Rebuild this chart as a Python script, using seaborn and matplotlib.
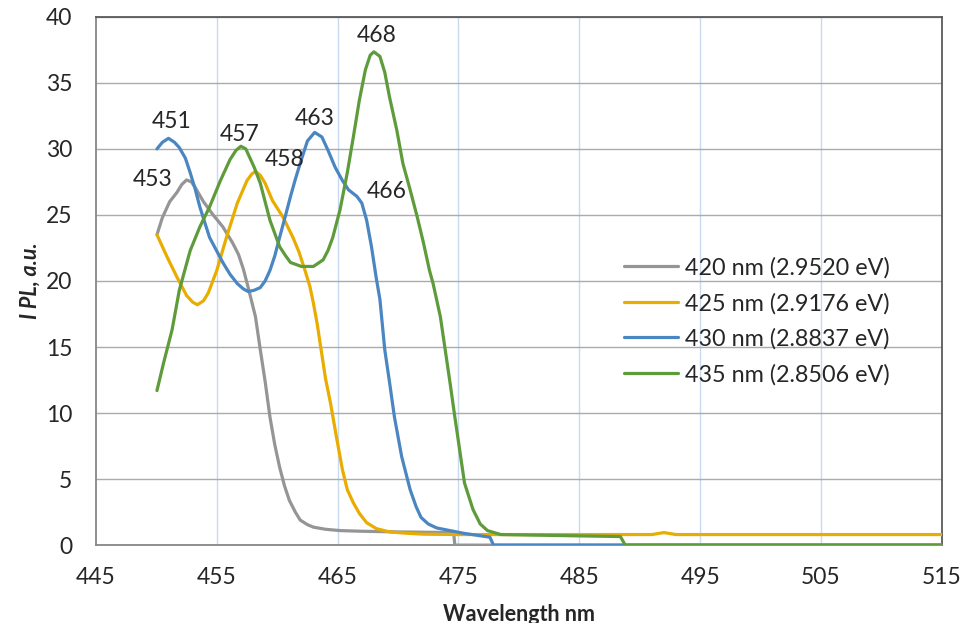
import numpy as np
import pandas as pd
import matplotlib
matplotlib.use('Agg')
import matplotlib.pyplot as plt
import seaborn as sns

# PL spectra (wavelength nm, intensity a.u.)
wl_420 = [450.05, 450.5, 451.1, 451.7, 452.1, 452.5, 452.9, 453.2, 453.9, 454.7,
          455.5, 456.3, 456.8, 457.2, 457.6, 458.2, 458.6, 459.0, 459.4, 459.8,
          460.2, 460.6, 461.0, 461.5, 461.9, 462.5, 463.0, 464.0, 465.2, 467.0,
          470.0, 474.6, 474.7, 515.0]
pl_420 = [23.5, 24.8, 26.0, 26.7, 27.3, 27.65, 27.5, 27.1, 26.0, 25.0,
          24.1, 22.9, 22.0, 20.9, 19.5, 17.3, 14.8, 12.4, 9.7, 7.6,
          5.9, 4.5, 3.4, 2.5, 1.9, 1.55, 1.36, 1.2, 1.1, 1.05,
          1.0, 0.95, 0.0, 0.0]

wl_425 = [450.05, 450.9, 451.7, 452.5, 453.0, 453.4, 453.9, 454.3, 455.0, 455.8,
          456.7, 457.5, 457.9, 458.2, 458.6, 459.0, 459.6, 460.5, 461.3, 461.8,
          462.3, 462.7, 463.0, 463.3, 463.6, 464.0, 464.4, 464.9, 465.4, 465.8,
          466.3, 466.8, 467.4, 468.2, 469.3, 470.7, 472.1, 475.0, 485.0, 491.0,
          492.0, 493.0, 505.0, 515.0]
pl_425 = [23.5, 21.8, 20.3, 18.9, 18.4, 18.2, 18.5, 19.1, 20.8, 23.3,
          25.9, 27.6, 28.1, 28.3, 28.0, 27.4, 26.1, 24.8, 23.3, 22.2,
          20.8, 19.6, 18.3, 16.8, 15.0, 12.6, 10.8, 8.2, 5.7, 4.2,
          3.2, 2.4, 1.7, 1.25, 1.0, 0.9, 0.83, 0.8, 0.8, 0.8,
          0.95, 0.8, 0.8, 0.8]

wl_430 = [450.05, 450.5, 451.0, 451.5, 451.9, 452.4, 452.8, 453.2, 453.6, 454.4,
          455.5, 456.1, 456.7, 457.2, 457.6, 458.1, 458.6, 459.0, 459.4, 459.8,
          460.2, 460.7, 461.1, 461.5, 461.9, 462.5, 463.1, 463.7, 464.2, 464.8,
          465.4, 465.9, 466.6, 467.0, 467.4, 467.8, 468.2, 468.5, 468.9, 469.3,
          469.7, 470.3, 471.0, 471.5, 471.9, 472.5, 473.2, 475.4, 477.6, 477.9,
          515.0]
pl_430 = [30.0, 30.5, 30.8, 30.5, 30.1, 29.3, 28.2, 27.0, 25.6, 23.3,
          21.4, 20.5, 19.8, 19.4, 19.2, 19.3, 19.5, 20.0, 20.8, 21.9,
          23.3, 25.0, 26.4, 27.7, 28.9, 30.6, 31.25, 30.9, 29.9, 28.6,
          27.6, 26.9, 26.4, 25.9, 24.6, 22.6, 20.2, 18.6, 14.8, 12.3,
          9.7, 6.7, 4.2, 2.9, 2.1, 1.6, 1.3, 0.9, 0.6, 0.0,
          0.0]

wl_435 = [450.05, 450.6, 451.3, 451.9, 452.8, 453.6, 454.4, 455.3, 456.1, 456.6,
          457.0, 457.4, 457.7, 458.1, 458.6, 459.4, 460.2, 460.7, 461.1, 462.0,
          463.0, 463.8, 464.2, 464.6, 465.2, 465.8, 466.3, 466.8, 467.3, 467.7,
          468.0, 468.5, 468.9, 469.3, 469.9, 470.4, 471.0, 471.6, 472.1, 472.6,
          472.9, 473.5, 473.9, 474.3, 474.7, 475.1, 475.5, 476.2, 476.8, 477.4,
          478.5, 485.0, 488.4, 488.8, 515.0]
pl_435 = [11.7, 13.8, 16.3, 19.3, 22.3, 24.1, 25.6, 27.6, 29.2, 29.9,
          30.2, 30.0, 29.4, 28.6, 27.4, 24.6, 22.6, 21.9, 21.4, 21.1,
          21.1, 21.6, 22.3, 23.3, 25.4, 28.2, 30.9, 33.7, 36.0, 37.1,
          37.35, 37.0, 35.8, 33.9, 31.4, 28.9, 26.9, 24.8, 22.9, 20.8,
          19.8, 17.3, 14.8, 12.3, 9.7, 7.2, 4.7, 2.7, 1.6, 1.1,
          0.8, 0.7, 0.65, 0.0, 0.0]

series_names = ['420 nm (2.9520 eV)', '425 nm (2.9176 eV)',
                '430 nm (2.8837 eV)', '435 nm (2.8506 eV)']
colors = ['#959595', '#E8AD00', '#4A86C1', '#5E9C3B']

# peak labels: text, x, y
peak_text = ['453', '451', '457', '458', '463', '466', '468']
peak_x = [449.7, 451.3, 456.9, 460.6, 463.1, 469.1, 468.2]
peak_y = [27.65, 32.1, 31.1, 29.2, 32.3, 26.8, 38.6]

frames = []
for name, wl, pl in zip(series_names, [wl_420, wl_425, wl_430, wl_435],
                        [pl_420, pl_425, pl_430, pl_435]):
    frames.append(pd.DataFrame({'wl': wl, 'pl': pl, 'series': name}))
df = pd.concat(frames, ignore_index=True)

sns.set_style('white')
plt.rcParams['font.family'] = ['Lato', 'DejaVu Sans']

fig = plt.figure(figsize=(9.69, 6.23), dpi=100)
ax = fig.add_axes([0.099, 0.125, 0.873, 0.848])

sns.lineplot(data=df, x='wl', y='pl', hue='series', palette=colors,
             sort=False, estimator=None, linewidth=2.3, ax=ax, zorder=3)
for ln in ax.lines:
    ln.set_solid_joinstyle('round')
    ln.set_solid_capstyle('round')

ax.set_xlim(445, 515)
ax.set_ylim(0, 40)
ax.set_xticks(np.arange(445, 516, 10))
ax.set_yticks(np.arange(0, 41, 5))

for v in np.arange(455, 515, 10):
    ax.axvline(v, color='#C9D9EE', linewidth=1.0, zorder=1)
for v in np.arange(5, 41, 5):
    ax.axhline(v, color='#ABABAB', linewidth=1.0, zorder=1)

for s in ['left', 'bottom']:
    ax.spines[s].set_color('#868686')
    ax.spines[s].set_linewidth(1.3)
for s in ['top', 'right']:
    ax.spines[s].set_color('#5A5A5A')
    ax.spines[s].set_linewidth(1.3)

ax.tick_params(axis='both', labelsize=16.5, direction='in', length=5,
               color='#868686')
ax.tick_params(axis='y', pad=17)
ax.tick_params(axis='x', pad=16)

ax.set_xlabel('Wavelength nm', fontsize=15.5, fontweight='bold', labelpad=11)
ax.set_ylabel('I PL, a.u.', fontsize=15.5, fontweight='bold', style='italic',
              labelpad=4)

for t, x, y in zip(peak_text, peak_x, peak_y):
    ax.text(x, y, t, fontsize=16.5, ha='center', va='center', zorder=4)

ax.legend(loc='center left', bbox_to_anchor=(0.6, 0.424), frameon=False,
          fontsize=16.8, handlelength=2.3, handletextpad=0.3,
          labelspacing=0.6)

fig.savefig('out.png', dpi=100)
